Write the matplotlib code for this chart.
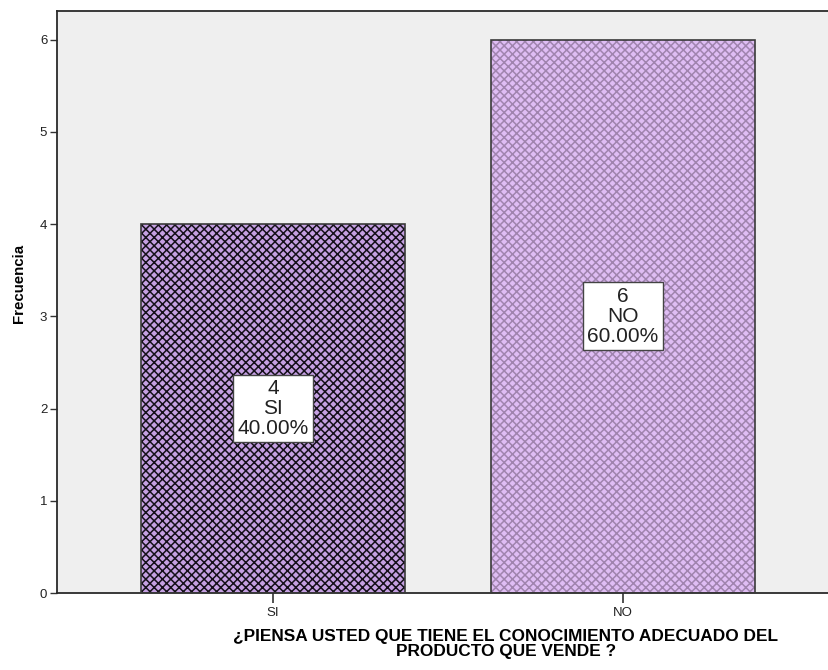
import matplotlib.pyplot as plt

plt.rcParams['font.family'] = ['Liberation Sans', 'DejaVu Sans']

# datos de la pregunta
categorias = ['SI', 'NO']
frecuencias = [4, 6]
porcentajes = [40.00, 60.00]
yticks = [0, 1, 2, 3, 4, 5, 6]

# estilo de cada barra: fondo, trama
fondos = ['#c5a0e2', '#dfbdf4']
tramas = ['#15101a', '#a084ae']

fig = plt.figure(figsize=(8.29, 6.70), dpi=100)
ax = fig.add_axes([57 / 829, 77 / 670, 772 / 829, 582 / 670])
ax.set_facecolor('#efefef')

plt.rcParams['hatch.linewidth'] = 1.1
x = list(range(len(categorias)))
ancho = 0.754
for i, (cat, f) in enumerate(zip(categorias, frecuencias)):
    # relleno con trama
    ax.bar(x[i], f, width=ancho, color=fondos[i], edgecolor=tramas[i],
           hatch='xxxx', linewidth=0, zorder=2)
    # borde de la barra
    ax.bar(x[i], f, width=ancho, color='none', edgecolor='#3a3a3a',
           linewidth=1.2, zorder=3)
    ax.text(x[i], f / 2, f"{f}\n{cat}\n{porcentajes[i]:.2f}%",
            ha='center', va='center', fontsize=15, linespacing=1.08,
            color='#222222', zorder=4,
            bbox=dict(boxstyle='square,pad=0.2', fc='white', ec='#444444', lw=1.0))

ax.set_xlim(-0.617, 1.589)
ax.set_ylim(0, 6.31)
ax.set_xticks(x)
ax.set_xticklabels(categorias, fontsize=9.5, color='#222222')
ax.set_yticks(yticks)
ax.set_yticklabels([str(t) for t in yticks], fontsize=9.5, color='#222222')
ax.tick_params(axis='y', length=5, width=1, color='#333333', pad=2)
ax.tick_params(axis='x', length=7, width=1.2, color='#333333', pad=3)

for lado in ['left', 'top', 'bottom']:
    ax.spines[lado].set_color('#2a2a2a')
    ax.spines[lado].set_linewidth(1.3)
ax.spines['right'].set_visible(False)

ax.set_ylabel('Frecuencia', fontsize=10.8, fontweight='bold')
ax.yaxis.set_label_coords(-0.04, 0.532)

fig.text(506 / 829, 1 - 644 / 670,
         '¿PIENSA USTED QUE TIENE EL CONOCIMIENTO ADECUADO DEL\nPRODUCTO QUE VENDE ?',
         ha='center', va='center', fontsize=12.4, fontweight='bold', linespacing=0.95)

fig.savefig('out.png', dpi=100)
